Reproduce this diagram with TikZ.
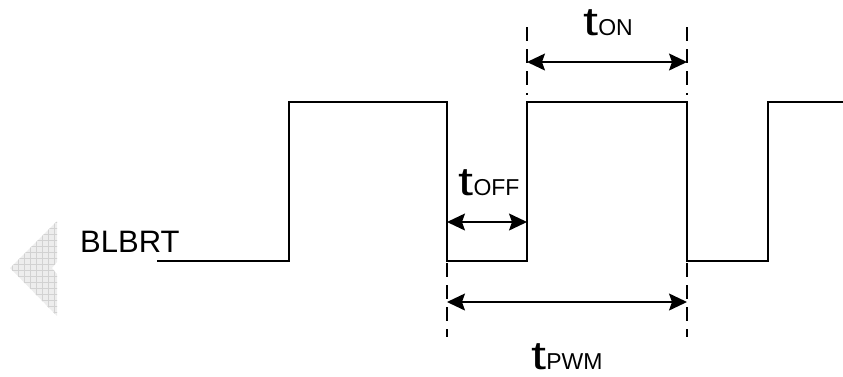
\documentclass[tikz,border=0pt]{standalone}
\usepackage{fontspec}
\setmainfont{Liberation Sans}
\usetikzlibrary{arrows.meta}
\tikzset{
  wave/.style={line width=1.5pt, line join=miter},
  guide/.style={line width=1.3pt, dash pattern=on 14pt off 8pt},
  tip/.tip={Stealth[length=18pt,width=17pt,inset=3pt]},
  dim/.style={line width=1.4pt, tip-tip},
  lbl/.style={inner sep=0pt, anchor=base},
  sig/.style={inner sep=0pt, anchor=base west, font=\fontsize{31}{31}\selectfont}
}
\newcommand{\tlab}[1]{\fontsize{40}{40}\selectfont\scalebox{1.35}[1]{t}\fontsize{23}{23}\selectfont #1}
\begin{document}
\begin{tikzpicture}[x=1pt,y=-1pt]
\useasboundingbox (0,0) rectangle (843,376);
% grey watermark arrow
\begin{scope}
\clip (10,268) -- (57,221) -- (57,262) -- (52,268) -- (57,274) -- (57,316) -- cycle;
\fill[gray!14] (0,210) rectangle (60,320);
\foreach \i in {0,6,...,60} {\draw[gray!35, line width=0.5pt] (\i,209) -- (\i,320);}
\foreach \j in {210,216,...,320} {\draw[gray!35, line width=0.5pt] (0,\j) -- (60,\j);}
\end{scope}
% waveform
\draw[wave] (157,261) -- (289,261) -- (289,102) -- (447,102) -- (447,261) -- (527,261) -- (527,102) -- (687,102) -- (687,261) -- (768,261) -- (768,102) -- (843,102);
% guides
\coordinate (onL) at (527,62);
\coordinate (onR) at (687,62);
\coordinate (offL) at (447,222);
\coordinate (offR) at (527,222);
\coordinate (pwmL) at (447,302);
\coordinate (pwmR) at (687,302);
\draw[guide] (527,27) -- (527,95);
\draw[guide] (687,27) -- (687,95);
\draw[guide] (447,263) -- (447,337);
\draw[guide] (687,263) -- (687,337);
% dimension arrows
\draw[dim] (onL) -- (onR);
\draw[dim] (offL) -- (offR);
\draw[dim] (pwmL) -- (pwmR);
% labels
\node[lbl] (ton) at (608,35) {\tlab{ON}};
\node[lbl] (toff) at (489,195) {\tlab{OFF}};
\node[lbl] (tpwm) at (567,369) {\tlab{PWM}};
\node[sig] (blbrt) at (80,252) {BLBRT};
\end{tikzpicture}
\end{document}
